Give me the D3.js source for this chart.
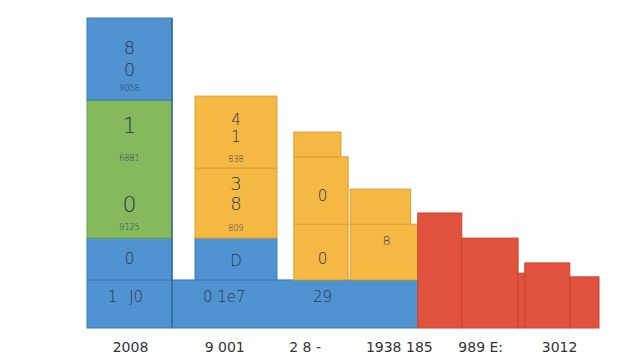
<!DOCTYPE html>
<html>
<head>
<meta charset="utf-8">
<script src="https://cdn.jsdelivr.net/npm/d3@7/dist/d3.min.js"></script>
<style>
  html, body { margin: 0; padding: 0; background: #ffffff; }
  svg { display: block; }
</style>
</head>
<body>
<svg id="chart" width="640" height="360"></svg>
<script>
// ---- Data ----
// category tick labels and their positions along the x axis (0-100 share units)
const tickLabels = ["2008", "9 001", "2 8 -", "1938 185", "989 E:", "3012"];
const tickPositions = [8.4, 26.8, 42.5, 60.9, 76.8, 92.2];

// segments: series, x-start, x-end (share units), value-bottom, value-top
const segSeries = ["base", "base", "blue", "green", "blue", "blue", "yellow", "yellow", "yellow", "yellow", "yellow", "yellow", "yellow",
                   "red", "red", "red", "red", "red"];
const segX0 =     [0,     16.6,  0,     0,     0,     21.1,  21.1,  21.1,  40.4,  40.4,  40.4,  51.4,  51.4,
                   64.6,  73.2,  84.2,  85.5,  94.3];
const segX1 =     [16.6,  64.6,  16.6,  16.6,  16.6,  37.1,  37.1,  37.1,  51.0,  51.0,  49.6,  64.6,  63.2,
                   73.2,  84.2,  85.5,  94.3,  100];
const segLow =    [0,     0,     15.5,  29,    73.5,  15.5,  29,    51.6,  15.5,  33.5,  55.2,  15.5,  33.5,
                   0,     0,     0,     0,     0];
const segHigh =   [15.5,  15.5,  29,    73.5,  100,   29,    51.6,  74.8,  33.5,  55.2,  63.2,  33.5,  44.8,
                   37.1,  29,    17.7,  21,    16.5];

// text labels inside blocks: x (share), value (y), text, size class
const lblX =    [8.3,  8.3,  8.3,  8.3,  8.3,  8.3,  8.3,  8.3,  5.0,  9.6,  29.1, 29.1, 29.1, 29.1, 29.1, 29.1, 29.1, 26.8, 46.0, 46.0, 46.0, 58.5];
const lblY =    [90.0, 83.0, 77.2, 65.0, 54.8, 39.5, 32.5, 22.0, 9.8,  9.8,  67.0, 61.5, 54.5, 46.2, 39.8, 32.0, 21.5, 9.8,  42.5, 22.0, 9.8,  28.0];
const lblText = ["8",  "0",  "9058", "1", "6881", "0",  "9125", "0",  "1",  "J0",  "4",  "1",  "838", "3",  "8",  "809", "D",  "0 1e7", "0", "0",  "29", "8"];
const lblSize = ["L",  "L",  "S",  "XL", "S",  "XL", "S",  "M",  "M",  "M",  "L2", "L2", "S",  "L",  "L",  "S",  "M",  "M",  "M",  "M",  "M",  "S2"];

// ---- Styles ----
const colors = { base: "#4f93d1", blue: "#4f93d1", green: "#84b95c", yellow: "#f4b843", red: "#e1523e" };
const strokes = { base: "#3d7bb5", blue: "#3d7bb5", green: "#6e9f4a", yellow: "#d99f32", red: "#c9452f" };
const sizes = { XL: 22, L: 18, L2: 15, M: 15, S: 8, S2: 13 };

const svg = d3.select("#chart");
const margin = { left: 87, right: 41, top: 18, bottom: 32 };
const W = 640, H = 360;

const x = d3.scaleLinear().domain([0, 100]).range([margin.left, W - margin.right]);
const y = d3.scaleLinear().domain([0, 100]).range([H - margin.bottom, margin.top]);

const segs = segSeries.map((s, i) => ({ s, x0: segX0[i], x1: segX1[i], lo: segLow[i], hi: segHigh[i] }));

svg.append("g").selectAll("rect").data(segs).join("rect")
  .attr("x", d => x(d.x0))
  .attr("y", d => y(d.hi))
  .attr("width", d => x(d.x1) - x(d.x0))
  .attr("height", d => y(d.lo) - y(d.hi))
  .attr("fill", d => colors[d.s])
  .attr("stroke", d => strokes[d.s])
  .attr("stroke-width", 1);

// divider line on the right edge of the first column
svg.append("line")
  .attr("x1", x(16.6)).attr("x2", x(16.6))
  .attr("y1", y(100)).attr("y2", y(0))
  .attr("stroke", "#35699a").attr("stroke-width", 1.5);

const labels = lblText.map((t, i) => ({ t, x: lblX[i], y: lblY[i], size: lblSize[i] }));
svg.append("g").selectAll("text").data(labels).join("text")
  .attr("x", d => x(d.x))
  .attr("y", d => y(d.y))
  .attr("text-anchor", "middle")
  .attr("dominant-baseline", "middle")
  .attr("font-family", "DejaVu Sans, sans-serif")
  .attr("font-weight", 300)
  .attr("font-size", d => sizes[d.size])
  .attr("fill", "#2a3550")
  .text(d => d.t);

// x axis tick labels
const axis = d3.axisBottom(x)
  .tickValues(tickPositions)
  .tickFormat((d, i) => tickLabels[i])
  .tickSize(0)
  .tickPadding(14);

const ag = svg.append("g")
  .attr("transform", `translate(0,${y(0)})`)
  .call(axis);
ag.select(".domain").remove();
ag.selectAll("text")
  .attr("font-family", "DejaVu Sans, sans-serif")
  .attr("font-size", 14)
  .attr("fill", "#333");
</script>
</body>
</html>
